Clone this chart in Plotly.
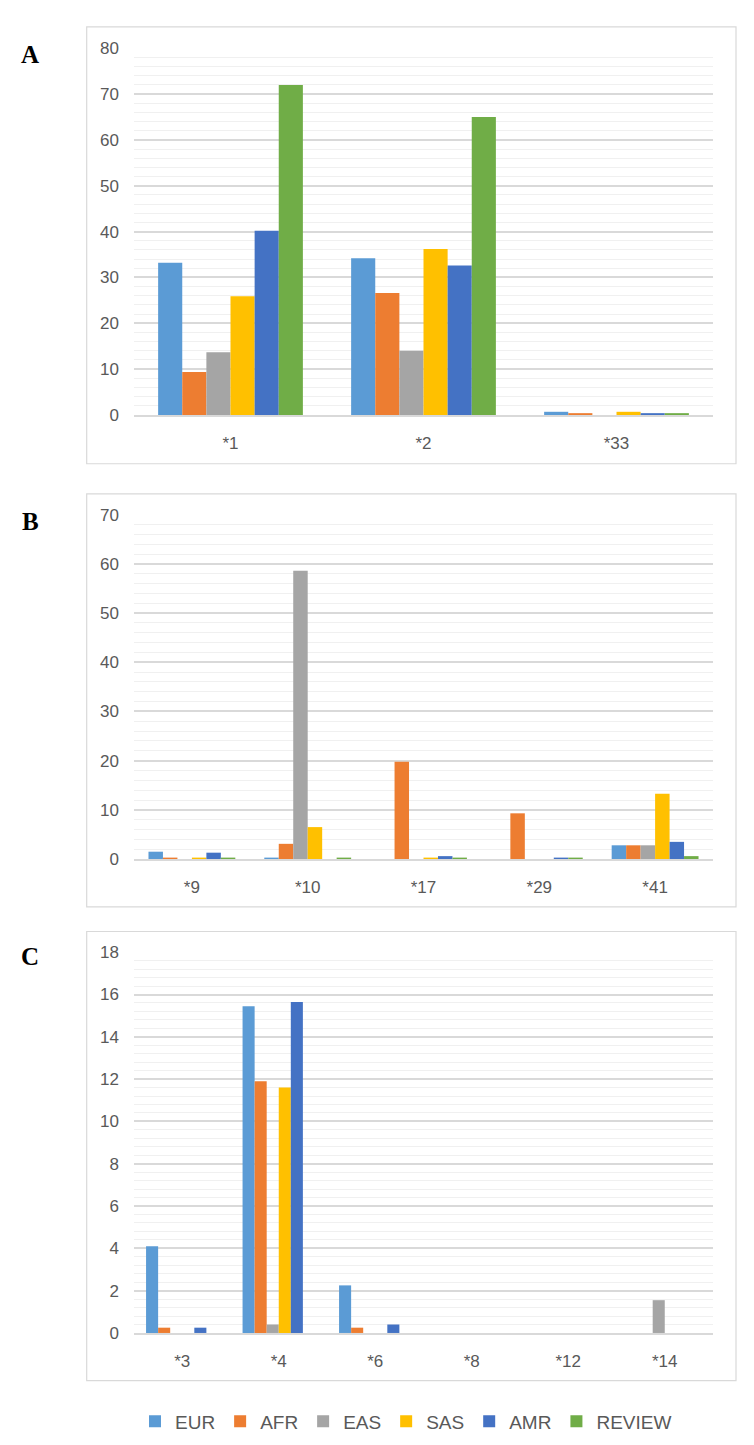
import plotly.graph_objects as go

# ---------------- data ----------------
series = ["EUR", "AFR", "EAS", "SAS", "AMR", "REVIEW"]
colors = ["#5B9BD5", "#ED7D31", "#A5A5A5", "#FFC000", "#4472C4", "#70AD47"]

cats_A = ["*1", "*2", "*33"]
A_EUR = [33.2, 34.2, 0.7]
A_AFR = [9.4, 26.6, 0.4]
A_EAS = [13.7, 14.0, 0.0]
A_SAS = [25.9, 36.2, 0.7]
A_AMR = [40.2, 32.6, 0.4]
A_REVIEW = [72.0, 65.0, 0.4]

cats_B = ["*9", "*10", "*17", "*29", "*41"]
B_EUR = [1.5, 0.3, 0.0, 0.0, 2.8]
B_AFR = [0.3, 3.1, 19.8, 9.3, 2.8]
B_EAS = [0.0, 58.6, 0.0, 0.0, 2.8]
B_SAS = [0.3, 6.5, 0.3, 0.0, 13.3]
B_AMR = [1.3, 0.0, 0.6, 0.3, 3.5]
B_REVIEW = [0.3, 0.3, 0.3, 0.3, 0.6]

cats_C = ["*3", "*4", "*6", "*8", "*12", "*14"]
C_EUR = [4.1, 15.45, 2.25, 0.0, 0.0, 0.0]
C_AFR = [0.25, 11.9, 0.25, 0.0, 0.0, 0.0]
C_EAS = [0.0, 0.4, 0.0, 0.0, 0.0, 1.55]
C_SAS = [0.0, 11.6, 0.0, 0.0, 0.0, 0.0]
C_AMR = [0.25, 15.65, 0.4, 0.0, 0.0, 0.0]
C_REVIEW = [0.0, 0.0, 0.0, 0.0, 0.0, 0.0]

panels = [
    ("A", cats_A, [A_EUR, A_AFR, A_EAS, A_SAS, A_AMR, A_REVIEW], 80, 10, 2),
    ("B", cats_B, [B_EUR, B_AFR, B_EAS, B_SAS, B_AMR, B_REVIEW], 70, 10, 2),
    ("C", cats_C, [C_EUR, C_AFR, C_EAS, C_SAS, C_AMR, C_REVIEW], 18, 2, 0.4),
]

# ---------------- layout geometry (pixels) ----------------
W, H = 754, 1445
plot_x = (126, 705)
# (top of value range px, zero px)
plot_y = [(31.7, 403.3), (504.3, 853.3), (947.7, 1333.5)]
boxes = [(78.7, 10, 728, 452.7), (78.7, 483.3, 728, 901.7), (78.7, 926.7, 728, 1381.7)]
label_y = [38, 511, 952]

TXT = "#595959"
FONT = "Liberation Sans, Arial, sans-serif"

fig = go.Figure()
layout = dict(
    width=W, height=H,
    margin=dict(l=0, r=0, t=0, b=0),
    paper_bgcolor="white", plot_bgcolor="white",
    barmode="group", bargap=0.25, bargroupgap=0,
    showlegend=True,
    legend=dict(orientation="h", x=398 / W, xanchor="center", y=1 - 1423 / H, yanchor="middle",
                font=dict(family=FONT, size=19, color=TXT), itemclick=False, itemdoubleclick=False,
                traceorder="normal"),
    shapes=[], annotations=[],
)

for i, (name, cats, vals, ymax, dt, minor_dt) in enumerate(panels):
    ax = "" if i == 0 else str(i + 1)
    for s, c, v in zip(series, colors, vals):
        fig.add_trace(go.Bar(
            x=cats, y=v, name=s, marker=dict(color=c, line=dict(width=0)),
            xaxis="x" + ax, yaxis="y" + ax, legendgroup=s, showlegend=(i == 0),
        ))
    top_px, zero_px = plot_y[i]
    layout["xaxis" + ax] = dict(
        domain=[plot_x[0] / W, plot_x[1] / W], anchor="y" + ax,
        showgrid=False, showline=True, linecolor="#d9d9d9", linewidth=1.5,
        ticks="", ticklabelstandoff=12,
        tickfont=dict(family=FONT, size=17, color=TXT), fixedrange=True,
    )
    layout["yaxis" + ax] = dict(
        domain=[1 - zero_px / H, 1 - top_px / H], anchor="x" + ax,
        range=[0, ymax], dtick=dt, tick0=0,
        showgrid=True, gridcolor="#d9d9d9", gridwidth=1.5,
        minor=dict(dtick=minor_dt, tick0=0, showgrid=True, gridcolor="#f0f0f0", gridwidth=1),
        zeroline=False, showline=False, ticks="", ticklabelstandoff=14,
        tickfont=dict(family=FONT, size=17, color=TXT), fixedrange=True,
    )
    x0, y0, x1, y1 = boxes[i]
    layout["shapes"].append(dict(
        type="rect", xref="paper", yref="paper",
        x0=x0 / W, x1=x1 / W, y0=1 - y1 / H, y1=1 - y0 / H,
        line=dict(color="#d9d9d9", width=1.2), fillcolor="rgba(0,0,0,0)", layer="below",
    ))
    layout["annotations"].append(dict(
        text="<b>%s</b>" % name, xref="paper", yref="paper",
        x=22 / W, y=1 - label_y[i] / H, xanchor="center", yanchor="middle",
        showarrow=False, font=dict(family="Liberation Serif, Times New Roman, serif", size=25, color="black"),
    ))

fig.update_layout(**layout)
fig.write_html("out.html")
